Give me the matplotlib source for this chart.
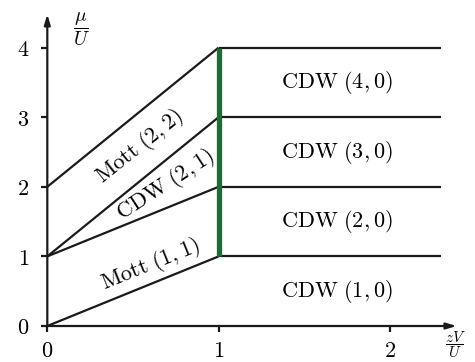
import matplotlib
matplotlib.use('Agg')
import matplotlib.pyplot as plt

plt.rcParams['mathtext.fontset'] = 'cm'
plt.rcParams['font.family'] = 'serif'
plt.rcParams['font.serif'] = ['DejaVu Serif']

# phase boundaries for zV/U < 1 (start and end of each slanted line)
slant_x = [[0, 1], [0, 1], [0, 1], [0, 1]]
slant_y = [[0, 1], [1, 2], [1, 3], [2, 4]]
# CDW plateaus for zV/U > 1
plateau_y = [1, 2, 3, 4]
plateau_x = [1, 2.3]
# first-order line at zV/U = 1
green_x = 1
green_y = [1, 4]

cdw_labels = ['(1,0)', '(2,0)', '(3,0)', '(4,0)']
cdw_y = [0.5, 1.5, 2.5, 3.5]
cdw_x = 1.69

slant_labels = [r'$\mathrm{Mott}\ (1,1)$', r'$\mathrm{CDW}\ (2,1)$', r'$\mathrm{Mott}\ (2,2)$']
slant_pos = [(0.60, 0.88), (0.69, 2.02), (0.54, 2.58)]
slant_rot = [22, 33, 38.5]

fig = plt.figure(figsize=(4.75, 3.62), dpi=100)
ax = fig.add_axes([47.3 / 475, 36 / 362, 2.45 * 171.3 / 475, 4.5 * 69.6 / 362])
ax.set_xlim(0, 2.45)
ax.set_ylim(0, 4.5)
for s in ax.spines.values():
    s.set_visible(False)

lw = 1.6
for xs, ys in zip(slant_x, slant_y):
    ax.plot(xs, ys, color='#1a1a1a', lw=lw, clip_on=False, solid_capstyle='butt')
for y in plateau_y:
    ax.plot(plateau_x, [y, y], color='#1a1a1a', lw=lw, clip_on=False, solid_capstyle='butt')
ax.plot([green_x, green_x], green_y, color='#1d6b37', lw=3.8, solid_capstyle='butt', zorder=3)

# axes with arrow heads
arrow = dict(arrowstyle='-|>,head_length=0.6,head_width=0.18', color='#1a1a1a', lw=lw,
             shrinkA=0, shrinkB=0)
ax.annotate('', xy=(2.39, 0), xytext=(0, 0), arrowprops=arrow, annotation_clip=False)
ax.annotate('', xy=(0, 4.48), xytext=(0, 0), arrowprops=arrow, annotation_clip=False)

ax.set_xticks([0, 1, 2])
ax.set_xticklabels(['$0$', '$1$', '$2$'])
ax.set_yticks([0, 1, 2, 3, 4])
ax.set_yticklabels(['$0$', '$1$', '$2$', '$3$', '$4$'])
ax.tick_params(direction='out', length=4, width=1.6, labelsize=16, color='#1a1a1a')
ax.tick_params(axis='y', pad=9)
ax.tick_params(axis='x', pad=6)

ax.text(2.38, -0.04, r'$\dfrac{zV}{U}$', fontsize=11, ha='center', va='top')
ax.text(0.2, 4.52, r'$\dfrac{\mu}{U}$', fontsize=14, ha='center', va='top')

for lab, y in zip(cdw_labels, cdw_y):
    ax.text(cdw_x, y, r'$\mathrm{CDW}\ ' + lab + '$', fontsize=16,
            ha='center', va='center')
for lab, (x, y), r in zip(slant_labels, slant_pos, slant_rot):
    ax.text(x, y, lab, fontsize=16, ha='center', va='center', rotation=r,
            rotation_mode='anchor')

fig.savefig('out.png', dpi=100)
